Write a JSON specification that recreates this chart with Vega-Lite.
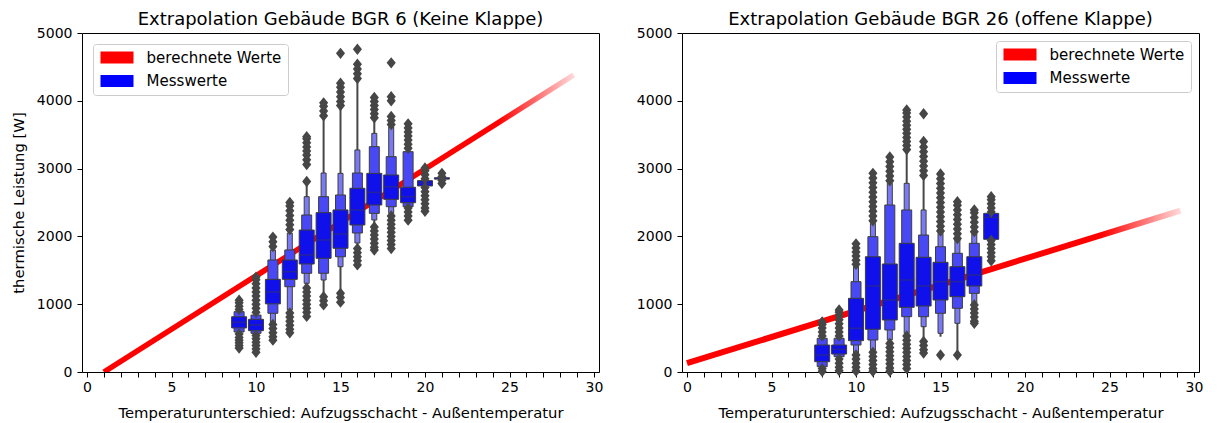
{
  "$schema": "https://vega.github.io/schema/vega-lite/v6.json",
  "padding": {"left": 10, "top": 10, "right": 5, "bottom": 3},
  "spacing": 83,
  "bounds": "flush",
  "config": {
    "font": "DejaVu Sans",
    "view": {"stroke": "black", "strokeWidth": 1},
    "axis": {"grid": false, "domain": false, "tickColor": "black", "tickSize": 5, "labelColor": "black", "labelFontSize": 14, "titleColor": "black", "titleFontSize": 14.8, "titleFontWeight": "normal", "labelPadding": 3, "titlePadding": 6},
    "axisX": {"titlePadding": 11},
    "axisY": {"labelPadding": 5, "titlePadding": 10},
    "title": {"fontSize": 18, "fontWeight": "normal", "color": "black", "offset": -2.5, "anchor": "middle", "frame": "group", "baseline": "alphabetic"},
    "legend": {"padding": 6, "cornerRadius": 3, "strokeColor": "#cccccc", "fillColor": "#ffffff", "labelFontSize": 15, "labelColor": "black", "rowPadding": 7.5, "symbolType": "M-1,-1H4.5V1H-1Z", "symbolSize": 144, "labelOffset": 32.6, "symbolStrokeWidth": 0, "symbolOpacity": 1, "offset": 11, "title": null}
  },
  "datasets": {
    "line": [
      {"p": "L", "x": 1, "y": 0, "s": "berechnete Werte"},
      {"p": "L", "x": 28.8, "y": 4380, "s": "berechnete Werte"},
      {"p": "R", "x": 0, "y": 130, "s": "berechnete Werte"},
      {"p": "R", "x": 29.2, "y": 2380, "s": "berechnete Werte"}
    ],
    "boxes": [
      {"p": "L", "x": 9, "level": 2, "lo": 590, "hi": 890},
      {"p": "L", "x": 9, "level": 1, "lo": 650, "hi": 815},
      {"p": "L", "x": 10, "level": 2, "lo": 570, "hi": 840},
      {"p": "L", "x": 10, "level": 1, "lo": 610, "hi": 777},
      {"p": "L", "x": 11, "level": 3, "lo": 722, "hi": 1800},
      {"p": "L", "x": 11, "level": 2, "lo": 866, "hi": 1652},
      {"p": "L", "x": 11, "level": 1, "lo": 1005, "hi": 1367},
      {"p": "L", "x": 12, "level": 3, "lo": 915, "hi": 2050},
      {"p": "L", "x": 12, "level": 2, "lo": 1258, "hi": 1800},
      {"p": "L", "x": 12, "level": 1, "lo": 1367, "hi": 1652},
      {"p": "L", "x": 13, "level": 3, "lo": 1308, "hi": 2586},
      {"p": "L", "x": 13, "level": 2, "lo": 1456, "hi": 2316},
      {"p": "L", "x": 13, "level": 1, "lo": 1593, "hi": 2094},
      {"p": "L", "x": 14, "level": 3, "lo": 1357, "hi": 2935},
      {"p": "L", "x": 14, "level": 2, "lo": 1456, "hi": 2586},
      {"p": "L", "x": 14, "level": 1, "lo": 1677, "hi": 2350},
      {"p": "L", "x": 15, "level": 3, "lo": 1553, "hi": 2930},
      {"p": "L", "x": 15, "level": 2, "lo": 1700, "hi": 2611},
      {"p": "L", "x": 15, "level": 1, "lo": 1825, "hi": 2390},
      {"p": "L", "x": 16, "level": 3, "lo": 1903, "hi": 3275},
      {"p": "L", "x": 16, "level": 2, "lo": 2050, "hi": 2935},
      {"p": "L", "x": 16, "level": 1, "lo": 2168, "hi": 2710},
      {"p": "L", "x": 17, "level": 3, "lo": 2242, "hi": 3520},
      {"p": "L", "x": 17, "level": 2, "lo": 2340, "hi": 3323},
      {"p": "L", "x": 17, "level": 1, "lo": 2463, "hi": 2930},
      {"p": "L", "x": 18, "level": 3, "lo": 2340, "hi": 3618},
      {"p": "L", "x": 18, "level": 2, "lo": 2438, "hi": 3176},
      {"p": "L", "x": 18, "level": 1, "lo": 2547, "hi": 2906},
      {"p": "L", "x": 19, "level": 2, "lo": 2438, "hi": 3250},
      {"p": "L", "x": 19, "level": 1, "lo": 2497, "hi": 2725},
      {"p": "L", "x": 20, "level": 1, "lo": 2744, "hi": 2822},
      {"p": "L", "x": 21, "level": 1, "lo": 2845, "hi": 2865},
      {"p": "R", "x": 8, "level": 2, "lo": 78, "hi": 497},
      {"p": "R", "x": 8, "level": 1, "lo": 152, "hi": 398},
      {"p": "R", "x": 9, "level": 2, "lo": 226, "hi": 497},
      {"p": "R", "x": 9, "level": 1, "lo": 265, "hi": 398},
      {"p": "R", "x": 10, "level": 3, "lo": 276, "hi": 1553},
      {"p": "R", "x": 10, "level": 2, "lo": 398, "hi": 1332},
      {"p": "R", "x": 10, "level": 1, "lo": 462, "hi": 1087},
      {"p": "R", "x": 11, "level": 3, "lo": 325, "hi": 2193},
      {"p": "R", "x": 11, "level": 2, "lo": 472, "hi": 1996},
      {"p": "R", "x": 11, "level": 1, "lo": 630, "hi": 1700},
      {"p": "R", "x": 12, "level": 3, "lo": 472, "hi": 2783},
      {"p": "R", "x": 12, "level": 2, "lo": 620, "hi": 2463},
      {"p": "R", "x": 12, "level": 1, "lo": 767, "hi": 1593},
      {"p": "R", "x": 13, "level": 3, "lo": 570, "hi": 2783},
      {"p": "R", "x": 13, "level": 2, "lo": 816, "hi": 2390},
      {"p": "R", "x": 13, "level": 1, "lo": 954, "hi": 1898},
      {"p": "R", "x": 14, "level": 3, "lo": 668, "hi": 2390},
      {"p": "R", "x": 14, "level": 2, "lo": 816, "hi": 2020},
      {"p": "R", "x": 14, "level": 1, "lo": 973, "hi": 1692},
      {"p": "R", "x": 15, "level": 3, "lo": 570, "hi": 2046},
      {"p": "R", "x": 15, "level": 2, "lo": 866, "hi": 1848},
      {"p": "R", "x": 15, "level": 1, "lo": 1062, "hi": 1618},
      {"p": "R", "x": 16, "level": 3, "lo": 718, "hi": 1947},
      {"p": "R", "x": 16, "level": 2, "lo": 940, "hi": 1751},
      {"p": "R", "x": 16, "level": 1, "lo": 1111, "hi": 1553},
      {"p": "R", "x": 17, "level": 3, "lo": 1013, "hi": 2046},
      {"p": "R", "x": 17, "level": 2, "lo": 1160, "hi": 1898},
      {"p": "R", "x": 17, "level": 1, "lo": 1268, "hi": 1700},
      {"p": "R", "x": 18, "level": 1, "lo": 1957, "hi": 2340}
    ],
    "stems": [
      {"p": "L", "x": 11, "lo": 722, "hi": 1850},
      {"p": "L", "x": 12, "lo": 900, "hi": 2080},
      {"p": "L", "x": 13, "lo": 1260, "hi": 2750},
      {"p": "L", "x": 14, "lo": 1165, "hi": 3766},
      {"p": "L", "x": 15, "lo": 1209, "hi": 3913},
      {"p": "L", "x": 16, "lo": 1850, "hi": 4307},
      {"p": "L", "x": 17, "lo": 2143, "hi": 3750},
      {"p": "R", "x": 10, "lo": 250, "hi": 1580},
      {"p": "R", "x": 11, "lo": 300, "hi": 2200},
      {"p": "R", "x": 12, "lo": 420, "hi": 2800},
      {"p": "R", "x": 13, "lo": 540, "hi": 3250},
      {"p": "R", "x": 14, "lo": 472, "hi": 2880},
      {"p": "R", "x": 15, "lo": 520, "hi": 2046},
      {"p": "R", "x": 16, "lo": 300, "hi": 1947}
    ],
    "medians": [
      {"p": "L", "x": 9, "m": 735}, {"p": "L", "x": 10, "m": 693}, {"p": "L", "x": 11, "m": 1180},
      {"p": "L", "x": 12, "m": 1479}, {"p": "L", "x": 13, "m": 1726}, {"p": "L", "x": 14, "m": 1947},
      {"p": "L", "x": 15, "m": 2035}, {"p": "L", "x": 16, "m": 2390}, {"p": "L", "x": 17, "m": 2650},
      {"p": "L", "x": 18, "m": 2733}, {"p": "L", "x": 19, "m": 2586}, {"p": "L", "x": 20, "m": 2783},
      {"p": "L", "x": 21, "m": 2855},
      {"p": "R", "x": 8, "m": 251}, {"p": "R", "x": 9, "m": 335}, {"p": "R", "x": 10, "m": 645},
      {"p": "R", "x": 11, "m": 1268}, {"p": "R", "x": 12, "m": 1062}, {"p": "R", "x": 13, "m": 1357},
      {"p": "R", "x": 14, "m": 1268}, {"p": "R", "x": 15, "m": 1332}, {"p": "R", "x": 16, "m": 1332},
      {"p": "R", "x": 17, "m": 1431}, {"p": "R", "x": 18, "m": 2281}
    ],
    "outliers": [
      {"p": "L", "x": 9, "v": [920, 970, 1020, 1060, 560, 510, 470, 430, 390, 355]},
      {"p": "L", "x": 10, "v": [880, 940, 1000, 1060, 1120, 1180, 1240, 1300, 1360, 1400, 540, 490, 440, 390, 340, 290]},
      {"p": "L", "x": 11, "v": [1850, 1920, 1990, 700, 640, 580, 520, 470]},
      {"p": "L", "x": 12, "v": [2100, 2170, 2240, 2310, 2380, 2450, 2500, 870, 810, 750, 690, 630, 580]},
      {"p": "L", "x": 13, "v": [2810, 3060, 3130, 3200, 3260, 3320, 3380, 3440, 3470, 1240, 1180, 1120, 1060, 1000, 940, 880, 820]},
      {"p": "L", "x": 14, "v": [3780, 3850, 3920, 3970, 1110, 1050, 990]},
      {"p": "L", "x": 15, "v": [3930, 3990, 4060, 4130, 4200, 4260, 4700, 1160, 1100, 1030]},
      {"p": "L", "x": 16, "v": [4330, 4400, 4470, 4540, 4760, 1820, 1760, 1700, 1640, 1580]},
      {"p": "L", "x": 17, "v": [3750, 3810, 3870, 3930, 3990, 4050, 2140, 2080, 2020, 1960, 1900, 1840, 1800]},
      {"p": "L", "x": 18, "v": [3650, 3710, 3770, 4000, 4060, 4560, 2300, 2240, 2180, 2120, 2060, 2000, 1940, 1880, 1820]},
      {"p": "L", "x": 19, "v": [3300, 3360, 3420, 3480, 3540, 3600, 3660, 2420, 2360, 2300, 2240]},
      {"p": "L", "x": 20, "v": [2850, 2910, 2970, 3010, 2720, 2660, 2600, 2540, 2480, 2420, 2370]},
      {"p": "L", "x": 21, "v": [2780, 2830, 2880, 2930]},
      {"p": "R", "x": 8, "v": [530, 590, 650, 700, 740, 50, 10]},
      {"p": "R", "x": 9, "v": [530, 590, 650, 710, 770, 830, 880, 915, 190, 130, 70, 20]},
      {"p": "R", "x": 10, "v": [1590, 1650, 1710, 1770, 1830, 1890, 250, 190, 130, 70, 15]},
      {"p": "R", "x": 11, "v": [2230, 2300, 2370, 2440, 2510, 2580, 2650, 2720, 2790, 2860, 2930, 290, 230, 170, 110, 50, 10]},
      {"p": "R", "x": 12, "v": [2820, 2890, 2960, 3030, 3100, 3170, 420, 360, 300, 240, 180, 120, 60, 10]},
      {"p": "R", "x": 13, "v": [3280, 3340, 3400, 3460, 3520, 3580, 3640, 3700, 3760, 3820, 3865, 530, 470, 410, 350, 290, 230, 170, 110, 50]},
      {"p": "R", "x": 14, "v": [2900, 2970, 3040, 3110, 3180, 3250, 3320, 3400, 3810, 450, 390, 330, 280]},
      {"p": "R", "x": 15, "v": [2080, 2150, 2220, 2290, 2360, 2430, 2500, 2570, 2640, 2710, 2780, 2850, 2920, 250]},
      {"p": "R", "x": 16, "v": [1970, 2040, 2110, 2180, 2250, 2320, 2390, 2460, 2510, 250]},
      {"p": "R", "x": 17, "v": [2070, 2140, 2210, 2280, 2350, 2390, 990, 930, 870, 810, 750, 720]},
      {"p": "R", "x": 18, "v": [2360, 2420, 2480, 2540, 2586, 1940, 1880, 1820, 1760, 1700, 1640]}
    ]
  },
  "hconcat": [
    {
      "width": 517,
      "height": 339,
      "title": "Extrapolation Gebäude BGR 6 (Keine Klappe)",
      "layer": [
        {
          "data": {"name": "line"},
          "transform": [{"filter": "datum.p === 'L'"}],
          "mark": {"type": "line", "strokeWidth": 5.5, "clip": true, "stroke": {"gradient": "linear", "x1": 0, "y1": 0, "x2": 1, "y2": 0, "stops": [{"offset": 0, "color": "#ff0000"}, {"offset": 0.84, "color": "#ff0000"}, {"offset": 1, "color": "rgba(255,0,0,0.15)"}]}},
          "encoding": {
            "x": {"field": "x", "type": "quantitative", "scale": {"domain": [0, 30], "nice": false}, "axis": {"values": [0,1,2,3,4,5,6,7,8,9,10,11,12,13,14,15,16,17,18,19,20,21,22,23,24,25,26,27,28,29,30], "labelExpr": "datum.value % 5 === 0 ? datum.label : ''", "labelOverlap": false, "labelFlush": false, "title": "Temperaturunterschied: Aufzugsschacht - Außentemperatur"}},
            "y": {"field": "y", "type": "quantitative", "scale": {"domain": [0, 5000], "nice": false}, "axis": {"values": [0, 1000, 2000, 3000, 4000, 5000], "format": "d", "labelFlush": false, "title": "thermische Leistung [W]"}}
          }
        },
        {
          "data": {"name": "stems"},
          "transform": [{"filter": "datum.p === 'L'"}],
          "mark": {"type": "rule", "color": "#474747", "strokeWidth": 2},
          "encoding": {
            "x": {"field": "x", "type": "quantitative", "axis": {"values": [0,1,2,3,4,5,6,7,8,9,10,11,12,13,14,15,16,17,18,19,20,21,22,23,24,25,26,27,28,29,30], "labelExpr": "datum.value % 5 === 0 ? datum.label : ''", "labelOverlap": false, "labelFlush": false, "title": "Temperaturunterschied: Aufzugsschacht - Außentemperatur"}},
            "y": {"field": "lo", "type": "quantitative", "axis": {"values": [0, 1000, 2000, 3000, 4000, 5000], "format": "d", "labelFlush": false, "title": "thermische Leistung [W]"}},
            "y2": {"field": "hi"}
          }
        },
        {
          "data": {"name": "boxes"},
          "transform": [{"filter": "datum.p === 'L'"}],
          "mark": {"type": "bar", "stroke": "#3d3d3d", "strokeWidth": 1},
          "encoding": {
            "x": {"field": "x", "type": "quantitative", "axis": {"values": [0,1,2,3,4,5,6,7,8,9,10,11,12,13,14,15,16,17,18,19,20,21,22,23,24,25,26,27,28,29,30], "labelExpr": "datum.value % 5 === 0 ? datum.label : ''", "labelOverlap": false, "labelFlush": false, "title": "Temperaturunterschied: Aufzugsschacht - Außentemperatur"}},
            "y": {"field": "lo", "type": "quantitative", "axis": {"values": [0, 1000, 2000, 3000, 4000, 5000], "format": "d", "labelFlush": false, "title": "thermische Leistung [W]"}},
            "y2": {"field": "hi"},
            "size": {"field": "level", "type": "quantitative", "scale": {"domain": [1, 3], "range": [15, 5], "zero": false}, "legend": null},
            "fill": {"field": "level", "type": "ordinal", "scale": {"domain": [1, 2, 3], "range": ["#1010ea", "#4848f4", "#7a7af6"]}, "legend": null}
          }
        },
        {
          "data": {"name": "medians"},
          "transform": [{"filter": "datum.p === 'L'"}],
          "mark": {"type": "tick", "orient": "horizontal", "size": 15, "thickness": 1.5, "color": "#2d2d7d"},
          "encoding": {
            "x": {"field": "x", "type": "quantitative", "axis": {"values": [0,1,2,3,4,5,6,7,8,9,10,11,12,13,14,15,16,17,18,19,20,21,22,23,24,25,26,27,28,29,30], "labelExpr": "datum.value % 5 === 0 ? datum.label : ''", "labelOverlap": false, "labelFlush": false, "title": "Temperaturunterschied: Aufzugsschacht - Außentemperatur"}},
            "y": {"field": "m", "type": "quantitative", "axis": {"values": [0, 1000, 2000, 3000, 4000, 5000], "format": "d", "labelFlush": false, "title": "thermische Leistung [W]"}}
          }
        },
        {
          "data": {"name": "outliers"},
          "transform": [{"filter": "datum.p === 'L'"}, {"flatten": ["v"]}],
          "mark": {"type": "point", "filled": true, "shape": "M0,-1L0.8,0L0,1L-0.8,0Z", "size": 130, "color": "#464646", "opacity": 1},
          "encoding": {
            "x": {"field": "x", "type": "quantitative", "axis": {"values": [0,1,2,3,4,5,6,7,8,9,10,11,12,13,14,15,16,17,18,19,20,21,22,23,24,25,26,27,28,29,30], "labelExpr": "datum.value % 5 === 0 ? datum.label : ''", "labelOverlap": false, "labelFlush": false, "title": "Temperaturunterschied: Aufzugsschacht - Außentemperatur"}},
            "y": {"field": "v", "type": "quantitative", "axis": {"values": [0, 1000, 2000, 3000, 4000, 5000], "format": "d", "labelFlush": false, "title": "thermische Leistung [W]"}}
          }
        },
        {
          "data": {"name": "line"},
          "transform": [{"filter": "datum.p === 'L'"}],
          "mark": {"type": "bar", "opacity": 0},
          "encoding": {
            "x": {"field": "x", "type": "quantitative", "axis": {"values": [0,1,2,3,4,5,6,7,8,9,10,11,12,13,14,15,16,17,18,19,20,21,22,23,24,25,26,27,28,29,30], "labelExpr": "datum.value % 5 === 0 ? datum.label : ''", "labelOverlap": false, "labelFlush": false, "title": "Temperaturunterschied: Aufzugsschacht - Außentemperatur"}},
            "y": {"field": "y", "type": "quantitative", "axis": {"values": [0, 1000, 2000, 3000, 4000, 5000], "format": "d", "labelFlush": false, "title": "thermische Leistung [W]"}},
            "color": {"field": "s", "type": "nominal", "scale": {"domain": ["berechnete Werte", "Messwerte"], "range": ["#ff0000", "#0000ff"]}, "legend": {"orient": "top-left", "offset": 11}}
          }
        }
      ]
    },
    {
      "width": 517,
      "height": 339,
      "title": "Extrapolation Gebäude BGR 26 (offene Klappe)",
      "layer": [
        {
          "data": {"name": "line"},
          "transform": [{"filter": "datum.p === 'R'"}],
          "mark": {"type": "line", "strokeWidth": 6, "clip": true, "stroke": {"gradient": "linear", "x1": 0, "y1": 0, "x2": 1, "y2": 0, "stops": [{"offset": 0, "color": "#ff0000"}, {"offset": 0.84, "color": "#ff0000"}, {"offset": 1, "color": "rgba(255,0,0,0.15)"}]}},
          "encoding": {
            "x": {"field": "x", "type": "quantitative", "scale": {"domain": [0, 30], "nice": false}, "axis": {"values": [0,1,2,3,4,5,6,7,8,9,10,11,12,13,14,15,16,17,18,19,20,21,22,23,24,25,26,27,28,29,30], "labelExpr": "datum.value % 5 === 0 ? datum.label : ''", "labelOverlap": false, "labelFlush": false, "title": "Temperaturunterschied: Aufzugsschacht - Außentemperatur"}},
            "y": {"field": "y", "type": "quantitative", "scale": {"domain": [0, 5000], "nice": false}, "axis": {"values": [0, 1000, 2000, 3000, 4000, 5000], "format": "d", "labelFlush": false, "title": null}}
          }
        },
        {
          "data": {"name": "stems"},
          "transform": [{"filter": "datum.p === 'R'"}],
          "mark": {"type": "rule", "color": "#474747", "strokeWidth": 2},
          "encoding": {
            "x": {"field": "x", "type": "quantitative", "axis": {"values": [0,1,2,3,4,5,6,7,8,9,10,11,12,13,14,15,16,17,18,19,20,21,22,23,24,25,26,27,28,29,30], "labelExpr": "datum.value % 5 === 0 ? datum.label : ''", "labelOverlap": false, "labelFlush": false, "title": "Temperaturunterschied: Aufzugsschacht - Außentemperatur"}},
            "y": {"field": "lo", "type": "quantitative", "axis": {"values": [0, 1000, 2000, 3000, 4000, 5000], "format": "d", "labelFlush": false, "title": null}},
            "y2": {"field": "hi"}
          }
        },
        {
          "data": {"name": "boxes"},
          "transform": [{"filter": "datum.p === 'R'"}],
          "mark": {"type": "bar", "stroke": "#3d3d3d", "strokeWidth": 1},
          "encoding": {
            "x": {"field": "x", "type": "quantitative", "axis": {"values": [0,1,2,3,4,5,6,7,8,9,10,11,12,13,14,15,16,17,18,19,20,21,22,23,24,25,26,27,28,29,30], "labelExpr": "datum.value % 5 === 0 ? datum.label : ''", "labelOverlap": false, "labelFlush": false, "title": "Temperaturunterschied: Aufzugsschacht - Außentemperatur"}},
            "y": {"field": "lo", "type": "quantitative", "axis": {"values": [0, 1000, 2000, 3000, 4000, 5000], "format": "d", "labelFlush": false, "title": null}},
            "y2": {"field": "hi"},
            "size": {"field": "level", "type": "quantitative", "scale": {"domain": [1, 3], "range": [15, 5], "zero": false}, "legend": null},
            "fill": {"field": "level", "type": "ordinal", "scale": {"domain": [1, 2, 3], "range": ["#1010ea", "#4848f4", "#7a7af6"]}, "legend": null}
          }
        },
        {
          "data": {"name": "medians"},
          "transform": [{"filter": "datum.p === 'R'"}],
          "mark": {"type": "tick", "orient": "horizontal", "size": 15, "thickness": 1.5, "color": "#2d2d7d"},
          "encoding": {
            "x": {"field": "x", "type": "quantitative", "axis": {"values": [0,1,2,3,4,5,6,7,8,9,10,11,12,13,14,15,16,17,18,19,20,21,22,23,24,25,26,27,28,29,30], "labelExpr": "datum.value % 5 === 0 ? datum.label : ''", "labelOverlap": false, "labelFlush": false, "title": "Temperaturunterschied: Aufzugsschacht - Außentemperatur"}},
            "y": {"field": "m", "type": "quantitative", "axis": {"values": [0, 1000, 2000, 3000, 4000, 5000], "format": "d", "labelFlush": false, "title": null}}
          }
        },
        {
          "data": {"name": "outliers"},
          "transform": [{"filter": "datum.p === 'R'"}, {"flatten": ["v"]}],
          "mark": {"type": "point", "filled": true, "shape": "M0,-1L0.8,0L0,1L-0.8,0Z", "size": 130, "color": "#464646", "opacity": 1},
          "encoding": {
            "x": {"field": "x", "type": "quantitative", "axis": {"values": [0,1,2,3,4,5,6,7,8,9,10,11,12,13,14,15,16,17,18,19,20,21,22,23,24,25,26,27,28,29,30], "labelExpr": "datum.value % 5 === 0 ? datum.label : ''", "labelOverlap": false, "labelFlush": false, "title": "Temperaturunterschied: Aufzugsschacht - Außentemperatur"}},
            "y": {"field": "v", "type": "quantitative", "axis": {"values": [0, 1000, 2000, 3000, 4000, 5000], "format": "d", "labelFlush": false, "title": null}}
          }
        },
        {
          "data": {"name": "line"},
          "transform": [{"filter": "datum.p === 'R'"}],
          "mark": {"type": "bar", "opacity": 0},
          "encoding": {
            "x": {"field": "x", "type": "quantitative", "axis": {"values": [0,1,2,3,4,5,6,7,8,9,10,11,12,13,14,15,16,17,18,19,20,21,22,23,24,25,26,27,28,29,30], "labelExpr": "datum.value % 5 === 0 ? datum.label : ''", "labelOverlap": false, "labelFlush": false, "title": "Temperaturunterschied: Aufzugsschacht - Außentemperatur"}},
            "y": {"field": "y", "type": "quantitative", "axis": {"values": [0, 1000, 2000, 3000, 4000, 5000], "format": "d", "labelFlush": false, "title": null}},
            "color": {"field": "s", "type": "nominal", "scale": {"domain": ["berechnete Werte", "Messwerte"], "range": ["#ff0000", "#0000ff"]}, "legend": {"orient": "top-right", "offset": 8}}
          }
        }
      ]
    }
  ]
}
